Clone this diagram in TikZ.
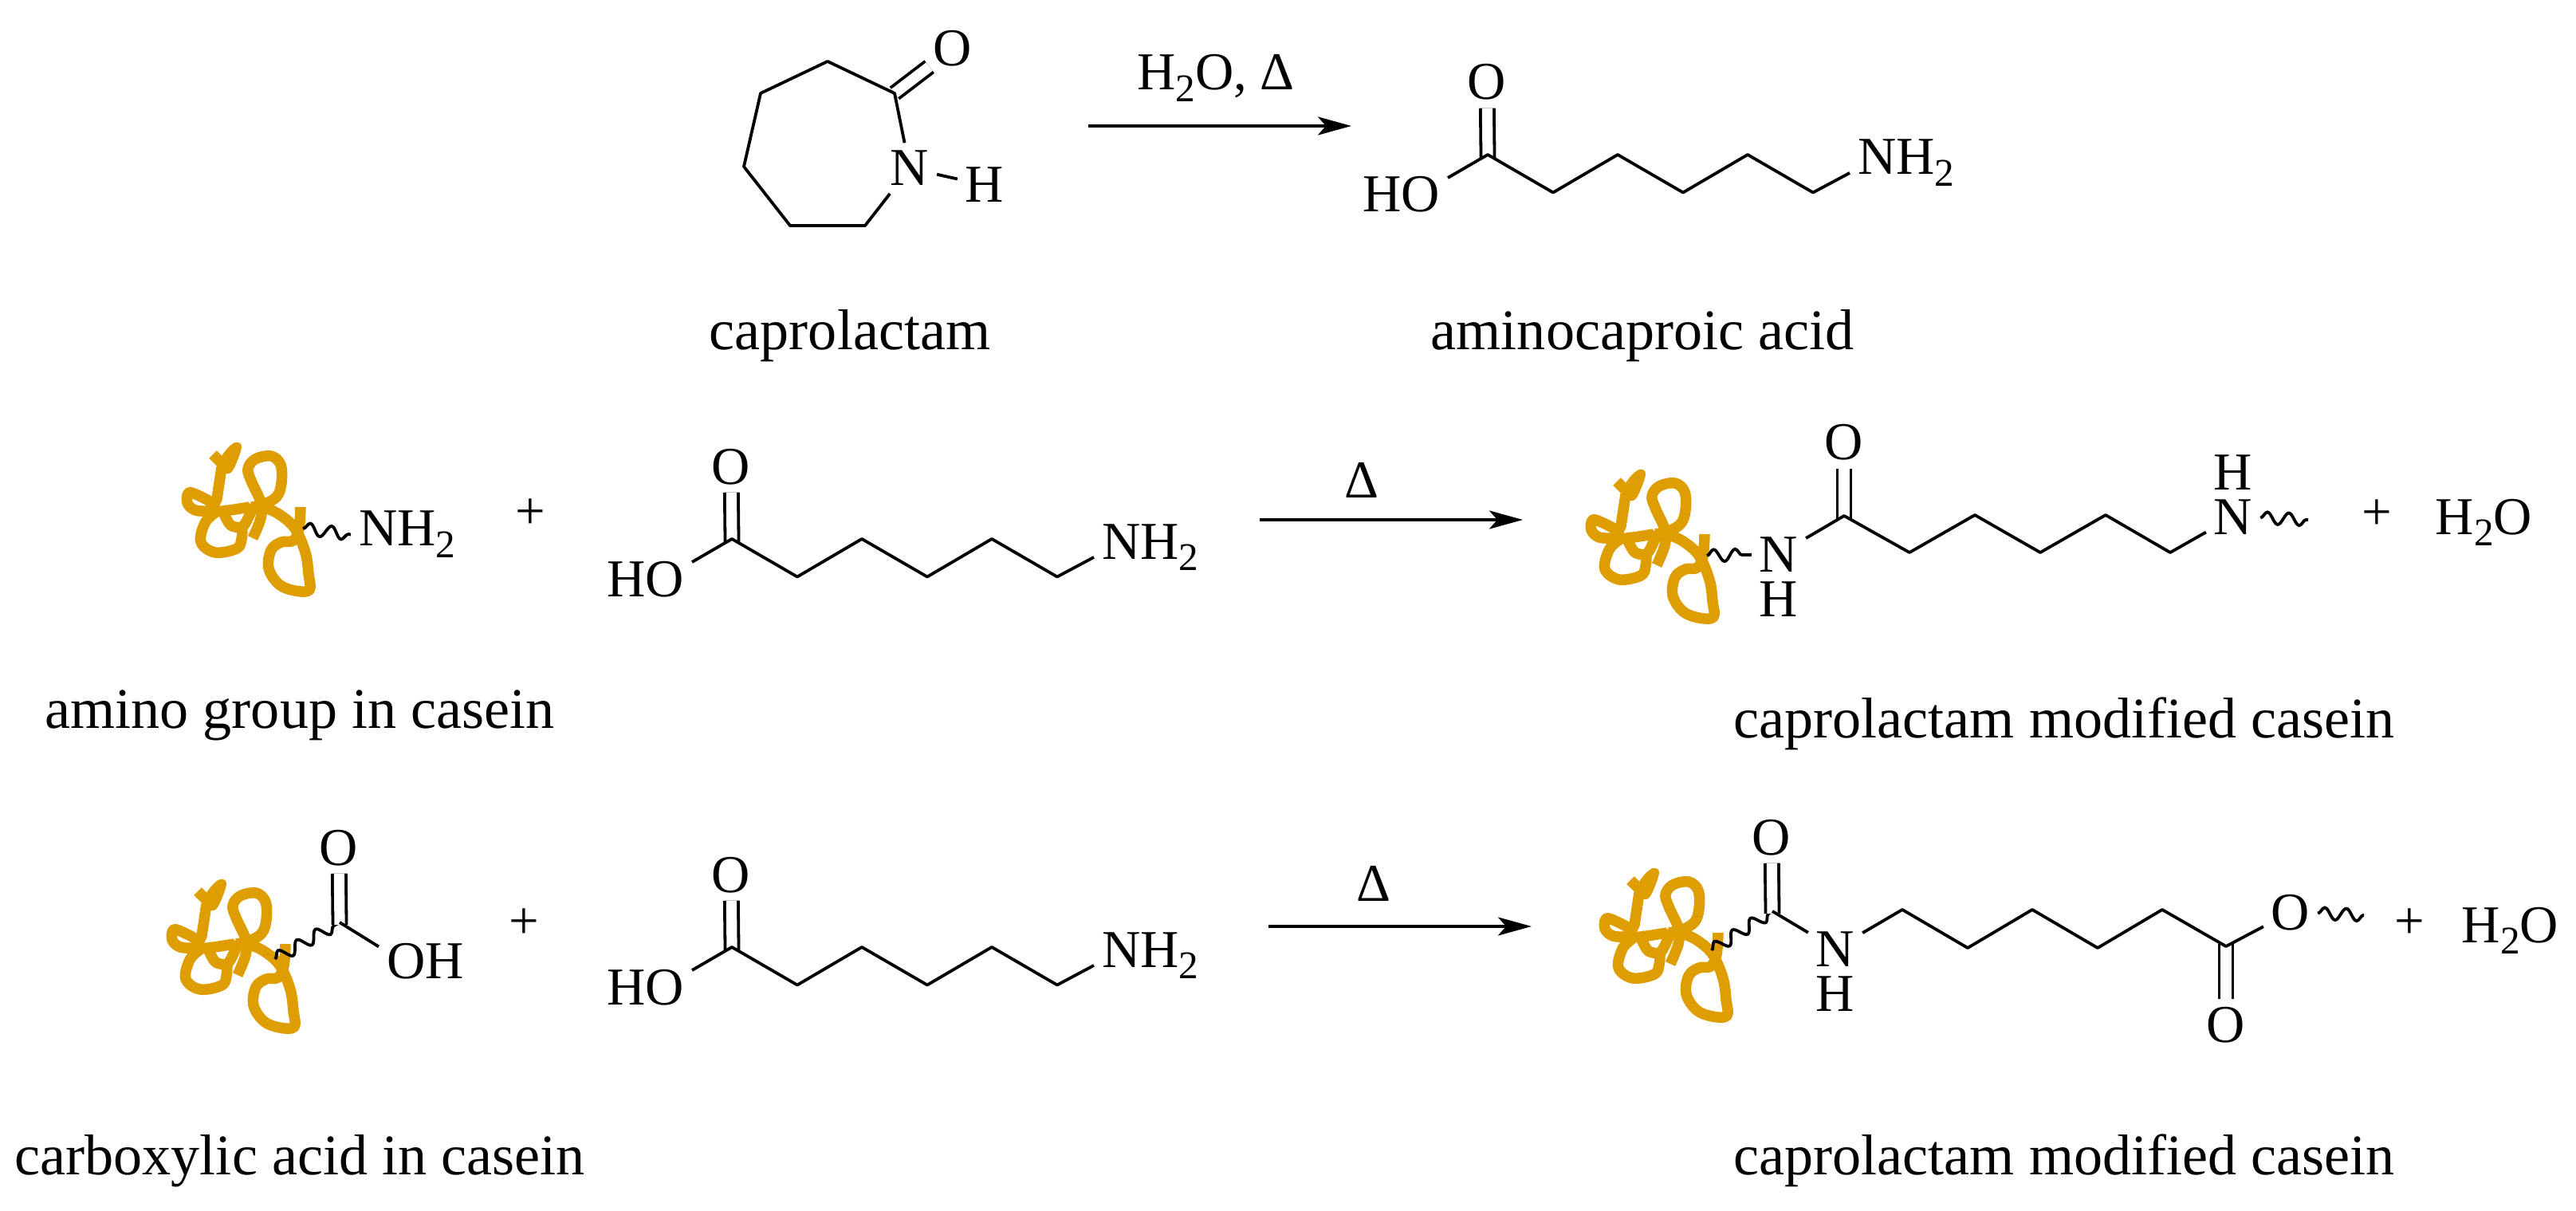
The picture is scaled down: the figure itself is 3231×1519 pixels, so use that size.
\documentclass[tikz,border=0pt]{standalone}
\usepackage{fontspec}
\setmainfont{Liberation Serif}
\usetikzlibrary{arrows.meta,decorations.pathmorphing}
\definecolor{coilcolor}{HTML}{DE9D00}
\newcommand{\chemfont}{\fontsize{19}{22}\selectfont}
\newcommand{\labelfont}{\fontsize{20.5}{24}\selectfont}
\newcommand{\subtwo}{\raisebox{-.22em}{\fontsize{14}{16}\selectfont 2}}
\tikzset{
  atom/.style={font=\chemfont,inner sep=0pt,outer sep=.1cm,anchor=base},
  wideatom/.style={atom,anchor=base west},
  hatom/.style={atom,outer sep=0pt},
  chemtext/.style={font=\chemfont,inner sep=0pt,anchor=base},
  caption/.style={font=\labelfont,inner sep=0pt,anchor=base},
  bond/.style={line width=.038cm,line join=round},
  dbond/.style={line width=.038cm,double,double distance=.132cm},
  wavy/.style={line width=.038cm,decorate,decoration={snake,amplitude=.075cm,segment length=.27cm}},
  rxnarrow/.style={line width=.036cm,-{Stealth[length=.42cm,width=.23cm,inset=.1cm]}},
  coilline/.style={draw=coilcolor,line width=.135cm,line join=round},
  acid/.pic={
    \coordinate (-c0) at (0,0);
    \coordinate (-c1) at (82,47.5);
    \coordinate (-c2) at (163,0);
    \coordinate (-c3) at (245,47.5);
    \coordinate (-c4) at (326,0);
    \coordinate (-c5) at (408,47.5);
    \node[atom] (-o) at (-1,-69) {O};
    \node[atom,anchor=base east] (-ho) at (-50,72) {HO};
    \node[wideatom] (-nh) at (454,25) {NH\subtwo};
    \draw[dbond,shorten <=-.04cm] (-c0) -- (-o);
    \draw[bond] (-ho.20) -- (-c0) -- (-c1) -- (-c2) -- (-c3) -- (-c4) -- (-c5) -- (-nh.190);
  },
  coil/.pic={
    \coordinate (-tip) at (0,0);
    \draw[coilline] (-113,-93) -- (-100,-80);
    \fill[coilcolor] plot[smooth cycle,tension=.6] coordinates {(-85,-108) (-77,-102) (-88,-73) (-98,-70) (-105,-83) (-97,-98)};
    \draw[coilline] (-102,-77) -- (-108,-37) -- (-113,-27);
    \draw[coilline] plot[smooth,tension=.6] coordinates {(-113,-32) (-128,-40) (-143,-45) (-145,-32) (-135,-23) (-117,-22) (-100,-22) (-67,-27)};
    \draw[coilline] plot[smooth,tension=.6] coordinates {(-110,-20) (-123,-7) (-128,17) (-110,30) (-83,25) (-77,13) (-76,-3)};
    \draw[coilline] plot[smooth,tension=.6] coordinates {(-103,-27) (-93,-7) (-85,-2) (-75,-3) (-67,-17) (-62,-30)};
    \draw[coilline] plot[smooth,tension=.6] coordinates {(-63,12) (-53,-13) (-53,-33) (-65,-60) (-69,-75) (-60,-87) (-40,-91) (-28,-80) (-27,-57) (-33,-40) (-50,-30) (-65,-27)};
    \draw[coilline] plot[smooth,tension=.6] coordinates {(-50,-27) (-30,-18) (-10,0) (3,30) (7,57) (8,77) (-10,78) (-30,70) (-43,50) (-40,27) (-27,17) (-12,15) (-5,0) (-3,-27)};
  }
}
\begin{document}
\begin{tikzpicture}[x=.01cm,y=-.01cm]
  \useasboundingbox (0,0) rectangle (3231,1519);

  \coordinate (cr) at (1122,117);
  \coordinate (r2) at (1038,77);
  \coordinate (r3) at (954,117);
  \coordinate (r4) at (933,209);
  \coordinate (r5) at (991,283);
  \coordinate (r6) at (1085,283);
  \node[atom] (or) at (1195,83) {O};
  \node[atom] (nr) at (1141,233) {N};
  \node[atom] (hr) at (1235,254) {H};
  \draw[dbond,shorten >=-.06cm] (cr) -- (or);
  \draw[bond] (nr) -- (r6) -- (r5) -- (r4) -- (r3) -- (r2) -- (cr) -- (nr);
  \draw[bond] (nr) -- (hr);
  \coordinate (a1s) at (1365,158);
  \coordinate (a1e) at (1695,158);
  \draw[rxnarrow] (a1s) -- (a1e);
  \node[chemtext] (cond1) at (1525,113) {H\subtwo O, Δ};
  \pic (acida) at (1866,194) {acid};
  \node[caption] (lab1) at (1066,439) {caprolactam};
  \node[caption] (lab2) at (2060,439) {aminocaproic acid};

  \pic (coila) at (380,663) {coil};
  \node[wideatom] (nha) at (440,685) {NH\subtwo};
  \draw[wavy] (coila-tip) -- (nha.west);
  \node[chemtext] (plus1) at (665,663) {+};
  \pic (acidb) at (918,676) {acid};
  \coordinate (a2s) at (1580,652);
  \coordinate (a2e) at (1910,652);
  \draw[rxnarrow] (a2s) -- (a2e);
  \node[chemtext] (cond2) at (1708,625) {Δ};
  \pic (coilb) at (2141,697) {coil};
  \coordinate (b0) at (2313,647);
  \coordinate (b1) at (2395,693);
  \coordinate (b2) at (2477,646);
  \coordinate (b3) at (2559,693);
  \coordinate (b4) at (2641,646);
  \coordinate (b5) at (2722,693);
  \node[atom] (nb1) at (2231,717) {N};
  \node[hatom] (hb1) at (2231,773) {H};
  \node[atom] (ob) at (2313,577) {O};
  \node[atom] (nb2) at (2801,670) {N};
  \node[hatom] (hb2) at (2801,614) {H};
  \coordinate (wb) at (2895,652);
  \draw[wavy] (coilb-tip) -- (nb1);
  \draw[dbond,shorten <=-.04cm] (b0) -- (ob);
  \draw[bond] (nb1) -- (b0) -- (b1) -- (b2) -- (b3) -- (b4) -- (b5) -- (nb2);
  \draw[wavy] (nb2) -- (wb);
  \node[chemtext] (plus2) at (2981,664) {+};
  \node[chemtext,anchor=base west] (wat1) at (3054,670) {H\subtwo O};
  \node[caption] (lab3) at (376,913) {amino group in casein};
  \node[caption] (lab4) at (2589,925) {caprolactam modified casein};

  \pic (coilc) at (361,1211) {coil};
  \coordinate (wc) at (345,1203);
  \coordinate (c0) at (426,1157);
  \node[atom] (oc) at (425,1085) {O};
  \node[atom,anchor=base west] (ohc) at (475,1227) {OH};
  \draw[wavy] (wc) -- (c0);
  \draw[dbond,shorten <=-.03cm] (c0) -- (oc);
  \draw[bond] (c0) -- (ohc.163);
  \node[chemtext] (plus3) at (657,1177) {+};
  \pic (acidc) at (918,1188) {acid};
  \coordinate (a3s) at (1591,1162);
  \coordinate (a3e) at (1921,1162);
  \draw[rxnarrow] (a3s) -- (a3e);
  \node[chemtext] (cond3) at (1723,1130) {Δ};
  \pic (coild) at (2158,1197) {coil};
  \coordinate (wd) at (2147,1192);
  \coordinate (d0) at (2223,1143);
  \coordinate (d1) at (2386,1141);
  \coordinate (d2) at (2468,1189);
  \coordinate (d3) at (2549,1141);
  \coordinate (d4) at (2631,1189);
  \coordinate (d5) at (2712,1141);
  \coordinate (d6) at (2792,1187);
  \node[atom] (od1) at (2222,1072) {O};
  \node[atom] (nd) at (2302,1212) {N};
  \node[hatom] (hd) at (2302,1268) {H};
  \node[atom] (od2) at (2873,1166) {O};
  \node[atom] (od3) at (2792,1307) {O};
  \coordinate (we) at (2965,1148);
  \draw[wavy] (wd) -- (d0);
  \draw[dbond,shorten <=-.03cm] (d0) -- (od1);
  \draw[dbond,shorten <=-.03cm] (d6) -- (od3);
  \draw[bond] (d0) -- (nd) -- (d1) -- (d2) -- (d3) -- (d4) -- (d5) -- (d6) -- (od2);
  \draw[wavy] (od2) -- (we);
  \node[chemtext] (plus4) at (3022,1177) {+};
  \node[chemtext,anchor=base west] (wat2) at (3087,1182) {H\subtwo O};
  \node[caption] (lab5) at (376,1473) {carboxylic acid in casein};
  \node[caption] (lab6) at (2589,1473) {caprolactam modified casein};
\end{tikzpicture}
\end{document}
